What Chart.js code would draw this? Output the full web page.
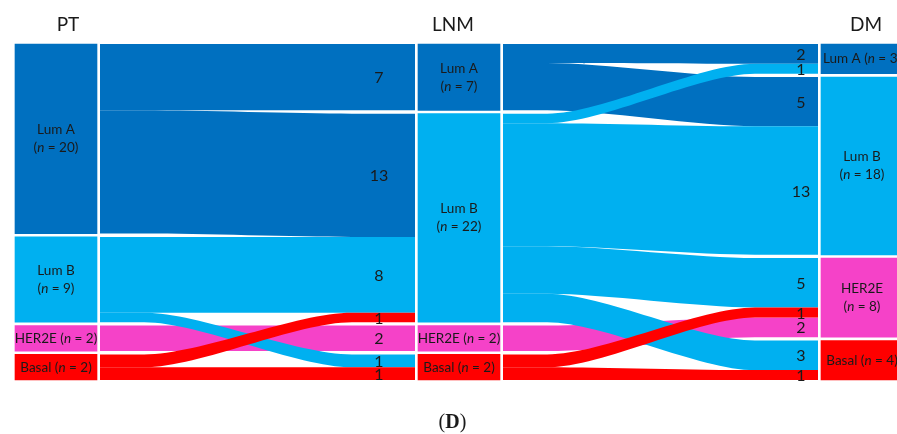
<!DOCTYPE html>
<html>
<head>
<meta charset="utf-8">
<script src="https://cdn.jsdelivr.net/npm/chart.js@4.4.1/dist/chart.umd.min.js"></script>
<style>
html, body { margin: 0; padding: 0; background: #fff; }
#wrap { width: 897px; height: 434px; position: relative; }
</style>
</head>
<body>
<div id="wrap"><canvas id="sankey"></canvas></div>
<script>
var stages = ['PT', 'LNM', 'DM'];
var subtypes = ['Lum A', 'Lum B', 'HER2E', 'Basal'];
var ptCounts = [20, 9, 2, 2];
var lnmCounts = [7, 22, 2, 2];
var dmCounts = [3, 18, 8, 4];
// [from, to, patients], listed in the order they stack at both ends
var ptToLnm = [[0, 0, 7], [0, 1, 13], [1, 1, 8], [3, 1, 1], [2, 2, 2], [1, 3, 1], [3, 3, 1]];
var lnmToDm = [[0, 0, 2], [1, 0, 1], [0, 1, 5], [1, 1, 13], [1, 2, 5], [3, 2, 1], [2, 2, 2], [1, 3, 3], [3, 3, 1]];

var subtypeColors = ['#0070C0', '#00B0F0', '#F542C8', '#FF0000'];
var textColor = '#1a1a1a';
var FONT = 'Lato, "Open Sans", sans-serif';

var columns = [ptCounts, lnmCounts, dmCounts];
var stageFlows = [ptToLnm, lnmToDm];
var GAP = 0.35, MIN_NODE = 2.7;

function sum(a) { return a.reduce(function (s, v) { return s + v; }, 0); }
function nodeSizes(c) { return c.map(function (v) { return Math.max(v, MIN_NODE); }); }

var spanTotal = Math.max.apply(null, columns.map(function (c) {
    return sum(nodeSizes(c)) + GAP * (c.length - 1);
}));

function layoutColumn(counts) {
    var h = nodeSizes(counts);
    var k = (spanTotal - GAP * (counts.length - 1)) / sum(h);
    var y = 0;
    return h.map(function (hh) {
        var r = [y, y + hh * k];
        y = r[1] + GAP;
        return r;
    });
}
var nodeRanges = columns.map(layoutColumn);

// where each flow sits inside its source and target node (in patient units)
function flowBands(s) {
    var src = columns[s], tgt = columns[s + 1];
    var srcR = nodeRanges[s], tgtR = nodeRanges[s + 1];
    var srcUsed = src.map(function () { return 0; });
    var tgtUsed = tgt.map(function () { return 0; });
    return stageFlows[s].map(function (f) {
        var a = f[0], b = f[1], v = f[2];
        var hs = v / src[a] * (srcR[a][1] - srcR[a][0]);
        var ht = v / tgt[b] * (tgtR[b][1] - tgtR[b][0]);
        var band = {
            from: a, to: b, value: v,
            sy0: srcR[a][0] + srcUsed[a], sy1: srcR[a][0] + srcUsed[a] + hs,
            ty0: tgtR[b][0] + tgtUsed[b], ty1: tgtR[b][0] + tgtUsed[b] + ht
        };
        srcUsed[a] += hs;
        tgtUsed[b] += ht;
        return band;
    });
}

function drawRich(ctx, parts, cx, cy, size) {
    var widths = parts.map(function (p) {
        ctx.font = (p.it ? 'italic ' : '') + size + 'px ' + FONT;
        return ctx.measureText(p.t).width;
    });
    var x = cx - sum(widths) / 2;
    ctx.textAlign = 'left';
    ctx.textBaseline = 'middle';
    parts.forEach(function (p, i) {
        ctx.font = (p.it ? 'italic ' : '') + size + 'px ' + FONT;
        ctx.fillText(p.t, x, cy);
        x += widths[i];
    });
}

var drawOrder = [0, 2, 1, 3];

var flowPlugin = {
    id: 'flows',
    beforeDatasetsDraw: function (chart) {
        var ctx = chart.ctx, ys = chart.scales.y;
        var bars = chart.getDatasetMeta(0).data;
        ctx.save();
        stageFlows.forEach(function (flows, s) {
            var xs = bars[s].x + bars[s].width / 2 + 3;
            var xt = bars[s + 1].x - bars[s + 1].width / 2 - 3;
            var dx = xt - xs;
            // flat run out of the source, long bend, flat run into the target
            var xa = xs + 0.14 * dx, xb = xt - 0.2 * dx;
            var c = 0.27 * (xb - xa);
            var bands = flowBands(s).slice().sort(function (p, q) {
                return drawOrder.indexOf(p.from) - drawOrder.indexOf(q.from);
            });
            bands.forEach(function (b) {
                var s0 = ys.getPixelForValue(b.sy0), s1 = ys.getPixelForValue(b.sy1);
                var t0 = ys.getPixelForValue(b.ty0), t1 = ys.getPixelForValue(b.ty1);
                ctx.beginPath();
                ctx.moveTo(xs, s0);
                ctx.lineTo(xa, s0);
                ctx.bezierCurveTo(xa + c, s0, xb - c, t0, xb, t0);
                ctx.lineTo(xt, t0);
                ctx.lineTo(xt, t1);
                ctx.lineTo(xb, t1);
                ctx.bezierCurveTo(xb - c, t1, xa + c, s1, xa, s1);
                ctx.lineTo(xs, s1);
                ctx.closePath();
                ctx.fillStyle = subtypeColors[b.from];
                ctx.fill();
            });
        });
        ctx.restore();
    },
    afterDatasetsDraw: function (chart) {
        var ctx = chart.ctx, ys = chart.scales.y;
        var bars = chart.getDatasetMeta(0).data;
        ctx.save();
        ctx.fillStyle = textColor;

        // flow counts near the target end
        var labelBack = [36, 17];
        stageFlows.forEach(function (flows, s) {
            var xt = bars[s + 1].x - bars[s + 1].width / 2 - 3;
            flowBands(s).forEach(function (b) {
                var ym = ys.getPixelForValue((b.ty0 + b.ty1) / 2);
                ctx.font = '16px ' + FONT;
                ctx.textAlign = 'center';
                ctx.textBaseline = 'middle';
                ctx.fillText(String(b.value), xt - labelBack[s], ym + 1);
            });
        });

        // node labels
        columns.forEach(function (counts, s) {
            counts.forEach(function (v, i) {
                var el = chart.getDatasetMeta(i).data[s];
                var top = Math.min(el.y, el.base), bot = Math.max(el.y, el.base);
                var cx = el.x, cy = (top + bot) / 2;
                if (bot - top < 42) {
                    drawRich(ctx, [{ t: subtypes[i] + ' (' }, { t: 'n', it: true }, { t: ' = ' + v + ')' }], cx, cy, 13.5);
                } else {
                    drawRich(ctx, [{ t: subtypes[i] }], cx, cy - 9, 13.5);
                    drawRich(ctx, [{ t: '(' }, { t: 'n', it: true }, { t: ' = ' + v + ')' }], cx, cy + 9, 13.5);
                }
            });
        });

        // stage titles
        var nudge = [12, -6, 4];
        stages.forEach(function (name, s) {
            ctx.font = '19px ' + FONT;
            ctx.textAlign = 'center';
            ctx.textBaseline = 'middle';
            ctx.fillText(name, bars[s].x + nudge[s], 25);
        });

        // panel letter
        var serif = '"Liberation Serif", "DejaVu Serif", serif';
        var parts = [['(', 'normal'], ['D', 'bold'], [')', 'normal']];
        var w = parts.map(function (p) { ctx.font = p[1] + ' 20px ' + serif; return ctx.measureText(p[0]).width; });
        var x = chart.width / 2 + 4 - sum(w) / 2;
        ctx.textAlign = 'left';
        parts.forEach(function (p, i) {
            ctx.font = p[1] + ' 20px ' + serif;
            ctx.fillText(p[0], x, 423);
            x += w[i];
        });
        ctx.restore();
    }
};

var datasets = subtypes.map(function (name, i) {
    return {
        label: name,
        data: nodeRanges.map(function (col) { return col[i]; }),
        backgroundColor: subtypeColors[i],
        borderWidth: 0,
        grouped: false,
        barThickness: 82,
        clip: false
    };
});

var canvas = document.getElementById('sankey').getContext('2d');
var sankeyChart = new Chart(canvas, {
    type: 'bar',
    data: { labels: stages, datasets: datasets },
    options: {
        responsive: true,
        maintainAspectRatio: false,
        animation: false,
        layout: { padding: { top: 44, bottom: 54, left: 56, right: 35 } },
        plugins: { legend: { display: false }, tooltip: { enabled: false } },
        scales: {
            x: { display: false, offset: false, grid: { display: false } },
            y: { display: false, reverse: true, min: 0, max: spanTotal, grid: { display: false } }
        }
    },
    plugins: [flowPlugin]
});
</script>
</body>
</html>
